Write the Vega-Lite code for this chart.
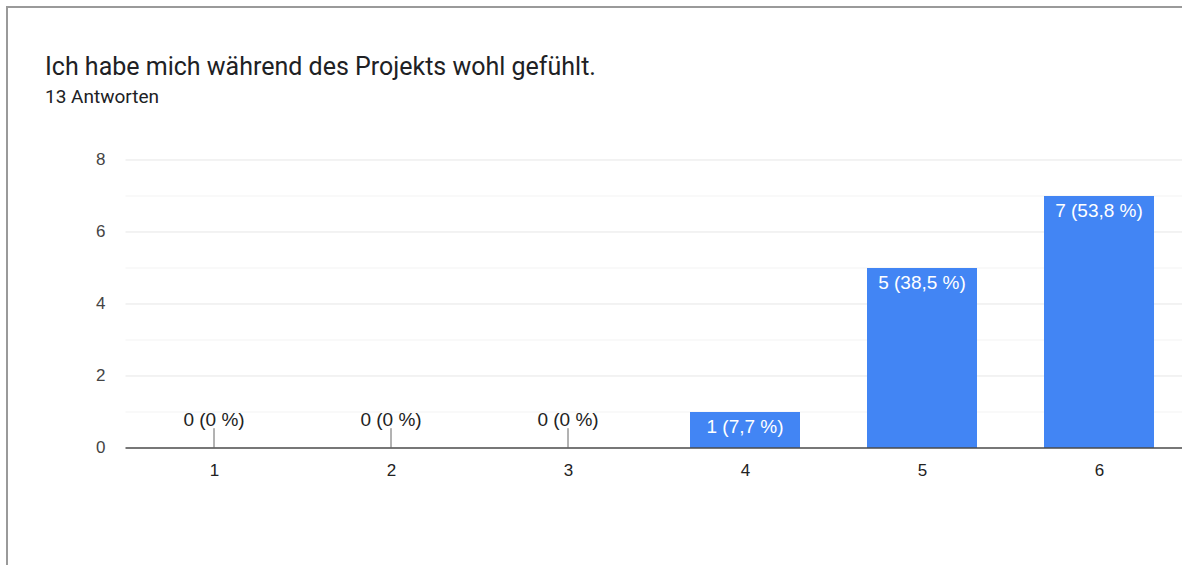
{
  "$schema": "https://vega.github.io/schema/vega-lite/v6.json",
  "autosize": {"type": "none"},
  "padding": {"left": 7, "top": 7, "right": -10, "bottom": -10},
  "width": 1185,
  "height": 568,
  "background": "white",
  "config": {
    "view": {"stroke": "#9a9a9a", "strokeWidth": 2},
    "font": "Roboto"
  },
  "title": {
    "text": "Ich habe mich während des Projekts wohl gefühlt.",
    "subtitle": "13 Antworten",
    "anchor": "start",
    "frame": "group",
    "orient": "top",
    "offset": -100,
    "dx": 38,
    "font": "Roboto",
    "fontSize": 25,
    "fontWeight": "normal",
    "color": "#202124",
    "subtitleFont": "Roboto",
    "subtitleFontSize": 19,
    "subtitleColor": "#202124",
    "subtitlePadding": 8
  },
  "datasets": {
    "answers": [
      {"option": 1, "count": 0, "label": "0 (0 %)"},
      {"option": 2, "count": 0, "label": "0 (0 %)"},
      {"option": 3, "count": 0, "label": "0 (0 %)"},
      {"option": 4, "count": 1, "label": "1 (7,7 %)"},
      {"option": 5, "count": 5, "label": "5 (38,5 %)"},
      {"option": 6, "count": 7, "label": "7 (53,8 %)"}
    ],
    "grid": [
      {"v": 1}, {"v": 2}, {"v": 3}, {"v": 4}, {"v": 5}, {"v": 6}, {"v": 7}, {"v": 8}
    ],
    "base": [{"v": 0}]
  },
  "layer": [
    {
      "data": {"name": "grid"},
      "mark": {"type": "rule", "strokeWidth": 1},
      "encoding": {
        "y": {
          "field": "v", "type": "quantitative", "title": null,
          "scale": {"domain": [-3.5278, 12.25], "nice": false, "zero": false, "padding": 0},
          "axis": {
            "values": [0, 2, 4, 6, 8], "offset": -118, "domain": false, "ticks": false,
            "grid": false, "labelPadding": 20, "labelFontSize": 17, "labelColor": "#444444",
            "labelFont": "Liberation Sans", "title": null
          }
        },
        "x": {"datum": 0.5, "type": "quantitative", "scale": {"domain": [-0.1695, 6.5254], "nice": false, "zero": false, "padding": 0}},
        "x2": {"datum": 6.5254},
        "color": {
          "condition": {"test": "datum.v % 2 === 0", "value": "#e6e6e6"},
          "value": "#f3f3f3"
        }
      }
    },
    {
      "data": {"name": "answers"},
      "transform": [{"filter": "datum.count > 0"}],
      "mark": {"type": "bar", "width": 110, "color": "#4285f4"},
      "encoding": {
        "x": {
          "field": "option", "type": "quantitative", "title": null,
          "scale": {"domain": [-0.1695, 6.5254], "nice": false, "zero": false, "padding": 0},
          "axis": {
            "values": [1, 2, 3, 4, 5, 6], "format": "d", "offset": -127, "domain": false,
            "ticks": false, "grid": false, "labelPadding": 14, "labelFontSize": 17,
            "labelColor": "#222222", "labelFont": "Liberation Sans", "title": null
          }
        },
        "y": {"field": "count", "type": "quantitative", "title": null},
        "y2": {"datum": 0}
      }
    },
    {
      "data": {"name": "base"},
      "mark": {"type": "rule", "strokeWidth": 1.5, "color": "#4a4a4a"},
      "encoding": {
        "y": {"field": "v", "type": "quantitative", "title": null},
        "x": {"datum": 0.5, "type": "quantitative"},
        "x2": {"datum": 6.5254}
      }
    },
    {
      "data": {"name": "answers"},
      "transform": [{"filter": "datum.count === 0"}],
      "mark": {"type": "rule", "strokeWidth": 1, "color": "#666666"},
      "encoding": {
        "x": {"field": "option", "type": "quantitative", "title": null},
        "y": {"datum": 0, "type": "quantitative"},
        "y2": {"datum": 0.55}
      }
    },
    {
      "data": {"name": "answers"},
      "transform": [{"filter": "datum.count === 0"}],
      "mark": {"type": "text", "baseline": "middle", "dy": -28, "fontSize": 19, "color": "#222222", "font": "Liberation Sans"},
      "encoding": {
        "x": {"field": "option", "type": "quantitative", "title": null},
        "y": {"field": "count", "type": "quantitative", "title": null},
        "text": {"field": "label"}
      }
    },
    {
      "data": {"name": "answers"},
      "transform": [{"filter": "datum.count > 0"}],
      "mark": {"type": "text", "baseline": "middle", "dy": 15, "fontSize": 19, "color": "#ffffff", "font": "Liberation Sans"},
      "encoding": {
        "x": {"field": "option", "type": "quantitative", "title": null},
        "y": {"field": "count", "type": "quantitative", "title": null},
        "text": {"field": "label"}
      }
    }
  ]
}
